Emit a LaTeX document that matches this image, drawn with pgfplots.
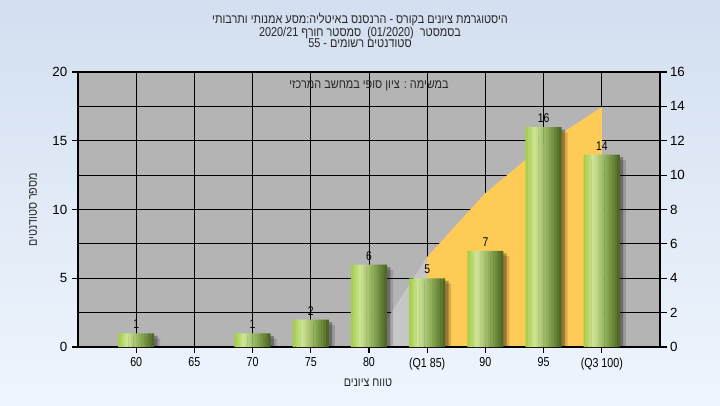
\documentclass[border=0pt]{standalone}
\usepackage{pgfplots}
\pgfplotsset{compat=1.18}
\usepackage{fontspec}
\setmainfont{Liberation Sans}
\newfontfamily\heb[Script=Hebrew]{Liberation Sans}
\newfontfamily\hebn[Script=Hebrew,FakeStretch=0.85]{Liberation Sans}
\newfontfamily\narrow[FakeStretch=0.82]{Liberation Sans}
\TeXXeTstate=1
\definecolor{bgtop}{HTML}{D3DFF0}
\definecolor{bgbot}{HTML}{EFF5FD}
\definecolor{plotgray}{HTML}{B4B4B4}
\definecolor{areagray}{HTML}{C6C6C6}
\definecolor{areaorange}{HTML}{FFCB57}
\definecolor{barA}{HTML}{9FCC42}
\definecolor{barB}{HTML}{CFE597}
\definecolor{barC}{HTML}{8AAA55}
\definecolor{barD}{HTML}{48621F}
\pgfplotstableread{
x y
0 1
2 1
3 2
4 6
5 5
6 7
7 16
8 14
}\bars
\pgfplotstableread{
x y
4 0
5 5.24
}\areaone
\pgfplotstableread{
x y
5 5.24
6 8.96
7 11.75
8 13.96
}\areatwo
\newcommand\stripe[2]{\addplot[ybar, bar width=2.1pt, bar shift=#1pt, draw=none, fill=#2, forget plot] table[x=x,y=y]{\bars};}
\begin{document}
\begin{tikzpicture}
\shade[top color=bgtop, bottom color=bgbot] (0,0) rectangle (540pt,303.75pt);
% background axis (right scale, grid, area)
\begin{axis}[
  at={(58.5pt,43.5pt)}, anchor=south west,
  scale only axis, width=436.5pt, height=206.25pt,
  xmin=-1, xmax=9, ymin=0, ymax=16,
  axis background/.style={fill=plotgray},
  xtick={0,...,8}, xticklabels={},
  ytick={0,2,...,16},
  ytick pos=right, xtick pos=bottom,
  tick align=outside,
  major tick length=5pt,
  xmajorgrids, ymajorgrids,
  grid style={black, line width=0.75pt},
  axis line style={black, line width=0.8pt},
  tick style={black, line width=0.8pt},
  x tick style={draw=none},
  /pgf/number format/assume math mode=true,
  yticklabel style={font=\fontsize{10}{12}\selectfont, xshift=-1pt},
]
\addplot[fill=areagray, draw=none] table[x=x,y=y]{\areaone} \closedcycle;
\addplot[fill=areaorange, draw=none] table[x=x,y=y]{\areatwo} \closedcycle;
\end{axis}
% foreground axis (left scale, bars)
\begin{axis}[
  at={(58.5pt,43.5pt)}, anchor=south west,
  scale only axis, width=436.5pt, height=206.25pt,
  xmin=-1, xmax=9, ymin=0, ymax=20,
  xtick={0,...,8},
  xticklabels={60,65,70,75,80,(Q1 85),90,95,(Q3 100)},
  ytick={0,5,...,20},
  ytick pos=left, xtick pos=bottom,
  tick align=outside,
  major tick length=4.5pt,
  axis line style={black, line width=0.8pt},
  tick style={black, line width=0.8pt},
  /pgf/number format/assume math mode=true,
  yticklabel style={font=\fontsize{10}{12}\selectfont},
  xticklabel style={font=\narrow\fontsize{9.75}{12}\selectfont},
]
\addplot[ybar, bar width=27pt, bar shift=2.5pt, draw=none, fill=black, fill opacity=0.3, yshift=-2pt, forget plot] table[x=x,y=y]{\bars};
\addplot[ybar, bar width=27pt, bar shift=4.5pt, draw=none, fill=black, fill opacity=0.15, yshift=-4pt, forget plot] table[x=x,y=y]{\bars};
\stripe{-12.536}{barB!14!barA}
\stripe{-10.607}{barB!41!barA}
\stripe{-8.679}{barB!69!barA}
\stripe{-6.75}{barB!96!barA}
\stripe{-4.821}{barC!16!barB}
\stripe{-2.893}{barC!35!barB}
\stripe{-0.964}{barC!54!barB}
\stripe{0.964}{barC!73!barB}
\stripe{2.893}{barC!91!barB}
\stripe{4.821}{barD!11!barC}
\stripe{6.75}{barD!31!barC}
\stripe{8.679}{barD!50!barC}
\stripe{10.607}{barD!70!barC}
\addplot[ybar, bar width=1.95pt, bar shift=12.54pt, draw=none, fill=barD!90!barC,
  nodes near coords,
  every node near coord/.append style={font=\narrow\fontsize{9.5}{11}\selectfont, text=black, inner sep=3pt},
] table[x=x,y=y]{\bars};
\end{axis}
\node[font=\hebn\fontsize{9.6}{11}\selectfont, text=black!85] at (276.75pt,239.25pt) {\beginR במשימה : ציון סופי במחשב המרכזי\endR};
\node[align=center, font=\hebn\fontsize{9.6}{8.6}\selectfont, text=black!85] at (270pt,280.9pt)
  {\beginR היסטוגרמת ציונים בקורס - הרנסנס באיטליה:מסע אמנותי ותרבותי\endR\\
   \beginR בסמסטר \ \beginL(01/2020)\endL{} \ סמסטר חורף \beginL2020/21\endL{}\endR\\
   \beginR סטודנטים רשומים - \beginL55\endL{}\endR};
\node[font=\hebn\fontsize{9.5}{11}\selectfont, text=black!85] at (276pt,16.5pt) {\beginR טווח ציונים\endR};
\node[font=\hebn\fontsize{9.5}{11}\selectfont, text=black!85, rotate=90] at (24.75pt,146.25pt) {\beginR מספר סטודנטים\endR};
\end{tikzpicture}
\end{document}
